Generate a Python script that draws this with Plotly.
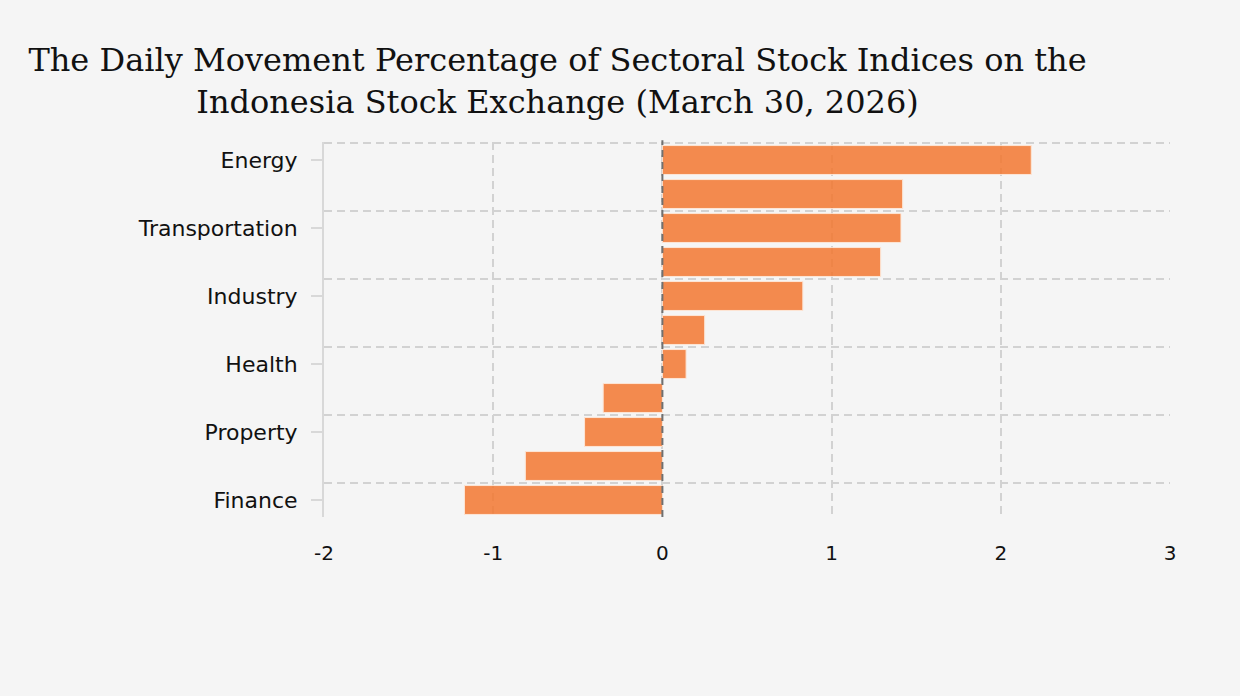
import plotly.graph_objects as go

categories = ["Energy", "Infrastructure", "Transportation", "Basic Materials",
              "Industry", "Technology", "Health", "Consumer Non-Cyclicals",
              "Property", "Consumer Cyclicals", "Finance"]
changes = [2.18, 1.42, 1.41, 1.29, 0.83, 0.25, 0.14, -0.35, -0.46, -0.81, -1.17]
x_ticks = [-2, -1, 0, 1, 2, 3]
x_tick_labels = ["-2", "-1", "0", "1", "2", "3"]
title_text = ("The Daily Movement Percentage of Sectoral Stock Indices on the<br>"
              "Indonesia Stock Exchange (March 30, 2026)")

positions = list(range(len(categories)))
label_pos = positions[::2]
label_txt = categories[::2]
boundary_pos = [p - 0.5 for p in label_pos]

GRID = "#d2d2d2"
DASH = "8px,5px"

fig = go.Figure(go.Bar(
    x=changes,
    y=positions,
    orientation="h",
    hovertext=categories,
    hoverinfo="text+x",
    marker=dict(color="rgb(243,120,49)", line=dict(color="#FFE4D2", width=1)),
    opacity=0.85,
))

fig.add_shape(type="line", xref="x", yref="paper", x0=0, x1=0, y0=0, y1=1.005,
              layer="above", line=dict(color="#707070", width=2, dash="7px,5px"))

fig.update_layout(
    width=1240, height=696,
    paper_bgcolor="#f5f5f5", plot_bgcolor="#f5f5f5",
    margin=dict(l=324, r=70, t=142, b=179),
    bargap=0.15,
    showlegend=False,
    font=dict(family="DejaVu Sans, Verdana, sans-serif", size=21, color="#111"),
    title=dict(text=title_text, x=557.5 / 1240, xanchor="center", xref="container",
               y=1 - 71 / 696, yanchor="top", yref="container",
               font=dict(family="DejaVu Serif, serif", size=32, color="#111")),
    xaxis=dict(range=[-2, 3], tickmode="array", tickvals=x_ticks, ticktext=x_tick_labels,
               showgrid=True, gridcolor=GRID, gridwidth=2,
               griddash=DASH, zeroline=False, showline=False,
               ticks="outside", ticklen=18, tickcolor="rgba(0,0,0,0)",
               tickfont=dict(size=20, color="#111")),
    yaxis=dict(range=[10.5, -0.53], tickmode="array", tickvals=label_pos, ticktext=label_txt,
               showgrid=False, zeroline=False, showline=True, linecolor="#d8d8d8", linewidth=2,
               ticks="outside", ticklen=11, tickwidth=2, tickcolor="#d8d8d8",
               ticklabelstandoff=9, tickfont=dict(size=22, color="#111"),
               minor=dict(tickmode="array", tickvals=boundary_pos, showgrid=True,
                          gridcolor=GRID, gridwidth=2, griddash=DASH, ticks="")),
)

fig.write_html("out.html", config={"displayModeBar": False},
               post_script="document.body.style.margin='0';")
